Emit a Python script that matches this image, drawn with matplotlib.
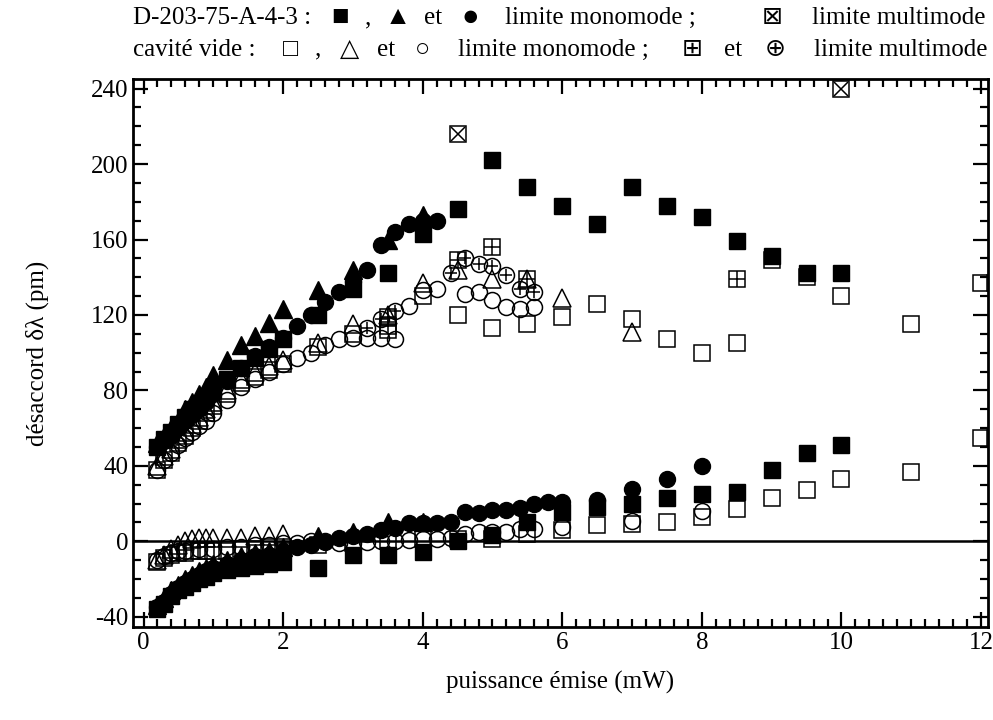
import matplotlib
matplotlib.use("Agg")
import matplotlib.pyplot as plt
from matplotlib.ticker import MultipleLocator

plt.rcParams['font.family'] = ['Liberation Serif', 'DejaVu Sans']
plt.rcParams['axes.unicode_minus'] = False

# ---- D-203-75-A-4-3, branche haute ----
x_sq_hi = [0.2, 0.3, 0.4, 0.5, 0.6, 0.7, 0.8, 0.9, 1.0, 1.2, 1.4, 1.6, 1.8, 2.0, 2.5, 3.0, 3.5, 4.0,
           4.5, 5.0, 5.5, 6.0, 6.5, 7.0, 7.5, 8.0, 8.5, 9.0, 9.5, 10.0]
y_sq_hi = [50, 54, 58, 62, 66, 70, 73, 77, 80, 86, 92, 97, 102, 107, 120, 134, 142, 163,
           176, 202, 188, 178, 168, 188, 178, 172, 159, 151, 142, 142]
x_tri_hi = [0.2, 0.3, 0.4, 0.5, 0.6, 0.7, 0.8, 0.9, 1.0, 1.2, 1.4, 1.6, 1.8, 2.0, 2.5, 3.0, 3.5, 4.0]
y_tri_hi = [52, 56, 60, 64, 70, 74, 78, 82, 88, 96, 104, 109, 116, 123, 133, 144, 160, 173]
x_ci_hi = [0.2, 0.3, 0.4, 0.5, 0.6, 0.7, 0.8, 0.9, 1.0, 1.2, 1.4, 1.6, 1.8, 2.0, 2.2, 2.4, 2.6, 2.8,
           3.0, 3.2, 3.4, 3.6, 3.8, 4.0, 4.2]
y_ci_hi = [50, 53, 56, 60, 64, 67, 70, 74, 78, 85, 92, 98, 103, 108, 114, 120, 127, 132,
           138, 144, 157, 164, 168, 170, 170]
x_multi = [4.5, 10.0]
y_multi = [216, 240]

# ---- D-203-75-A-4-3, branche basse ----
x_sq_lo = [0.2, 0.3, 0.4, 0.5, 0.6, 0.7, 0.8, 0.9, 1.0, 1.2, 1.4, 1.6, 1.8, 2.0, 2.5, 3.0, 3.5, 4.0,
           4.5, 5.0, 5.5, 6.0, 6.5, 7.0, 7.5, 8.0, 8.5, 9.0, 9.5, 10.0]
y_sq_lo = [-36, -33, -29, -26, -24, -22, -20, -19, -17, -15, -14, -13, -12, -11, -14, -7.5, -7.5, -5.5,
           0, 3.6, 10, 15.5, 18, 20, 23, 25, 26, 38, 47, 51]
x_tri_lo = [0.2, 0.3, 0.4, 0.5, 0.6, 0.7, 0.8, 0.9, 1.0, 1.2, 1.4, 1.6, 1.8, 2.0, 2.5, 3.0, 3.5, 4.0]
y_tri_lo = [-34, -30, -26, -23, -20, -18, -16, -14, -12, -10, -8, -6, -5, -3, 3, 5, 10, 10]
x_ci_lo = [0.2, 0.3, 0.4, 0.5, 0.6, 0.7, 0.8, 0.9, 1.0, 1.2, 1.4, 1.6, 1.8, 2.0, 2.2, 2.4, 2.6, 2.8,
           3.0, 3.2, 3.4, 3.6, 3.8, 4.0, 4.2, 4.4, 4.6, 4.8, 5.0, 5.2, 5.4, 5.6, 5.8, 6.0, 6.5, 7.0,
           7.5, 8.0]
y_ci_lo = [-35, -32, -28, -25, -22, -20, -18, -16, -14, -12, -10, -8, -7, -5, -3, -2, -0.5, 2,
           3, 4, 6, 7, 9.5, 9.5, 9.5, 10, 15.5, 15, 16.6, 16.6, 17.5, 20, 21, 21, 22, 27.5,
           33, 40]

# ---- cavite vide, branche haute ----
x_osq_hi = [0.2, 0.3, 0.4, 0.5, 0.6, 0.7, 0.8, 0.9, 1.0, 1.2, 1.4, 1.6, 1.8, 2.0, 2.5, 3.0, 3.5, 4.0,
            4.5, 5.0, 5.5, 6.0, 6.5, 7.0, 7.5, 8.0, 8.5, 9.0, 9.5, 10.0, 11.0, 12.0, 12.2]
y_osq_hi = [38, 43, 47, 52, 56, 60, 64, 68, 72, 78, 84, 87, 91, 94, 103, 110, 112, 130,
            120, 113, 115, 119, 126, 118, 107.5, 100, 105, 149, 140, 130, 115, 137, 137]
x_otri_hi = [0.2, 0.3, 0.4, 0.5, 0.6, 0.7, 0.8, 0.9, 1.0, 1.2, 1.4, 1.6, 1.8, 2.0, 2.5, 3.0, 3.5,
             4.0, 4.5, 5.0, 5.5, 6.0, 7.0]
y_otri_hi = [40, 45, 49, 54, 58, 62, 66, 70, 74, 80, 86, 90, 93, 96, 105, 115, 120,
             137, 144, 139, 139, 129, 111]
x_oci_hi = [0.2, 0.3, 0.4, 0.5, 0.6, 0.7, 0.8, 0.9, 1.0, 1.2, 1.4, 1.6, 1.8, 2.0, 2.2, 2.4, 2.6, 2.8,
            3.0, 3.2, 3.4, 3.6, 3.8, 4.0, 4.2, 4.6, 4.8, 5.0, 5.2, 5.4, 5.6]
y_oci_hi = [38, 43, 47, 51, 55, 58, 61, 64, 68, 75, 82, 86, 90, 94, 97, 100, 104, 107,
            108, 108, 108, 107, 125, 133, 134, 131, 132, 128, 124, 123, 124]
x_plus_sq = [3.5, 3.5, 4.5, 5.0, 5.5, 8.5]
y_plus_sq = [114, 119, 149, 156, 139, 139]
x_plus_ci = [3.2, 3.4, 3.6, 4.4, 4.6, 4.8, 5.0, 5.2, 5.4, 5.6]
y_plus_ci = [113, 118, 122, 142, 150, 147, 146, 141, 134, 132]

# ---- cavite vide, branche basse ----
x_osq_lo = [0.2, 0.3, 0.4, 0.5, 0.6, 0.7, 0.8, 0.9, 1.0, 1.2, 1.4, 1.6, 1.8, 2.0, 2.5, 3.0, 3.5, 4.0,
            4.5, 5.0, 5.5, 6.0, 6.5, 7.0, 7.5, 8.0, 8.5, 9.0, 9.5, 10.0, 11.0, 12.0, 12.2]
y_osq_lo = [-11, -9, -7, -6, -6, -5, -5, -5, -5, -5, -4, -4, -3, -3, -2, -1, 0, 1,
            1, 1, 4, 6, 8.5, 9, 10, 13, 17, 23, 27, 33, 37, 55, 55]
x_otri_lo = [0.2, 0.3, 0.4, 0.5, 0.6, 0.7, 0.8, 0.9, 1.0, 1.2, 1.4, 1.6, 1.8, 2.0]
y_otri_lo = [-10, -7, -4, -2, 0, 1, 2, 2, 2, 2, 2, 3, 3, 4]
x_oci_lo = [0.2, 0.3, 0.4, 0.5, 0.6, 0.8, 1.0, 1.2, 1.4, 1.6, 1.8, 2.0, 2.2, 2.4, 2.6, 2.8, 3.0,
            3.2, 3.4, 3.6, 3.8, 4.0, 4.2, 4.4, 4.6, 4.8, 5.0, 5.2, 5.4, 5.6, 6.0, 7.0, 8.0]
y_oci_lo = [-10, -8, -6, -5, -5, -4, -4, -3, -3, -2, -2, -1, -1, 0, 0, -1, -1,
            -0.5, 0, 0, 0.5, 1, 1, 2, 4, 5, 5, 5, 6.5, 6.5, 7.5, 11, 16]

# legende en haut : (texte, position x en pixels, alignement, taille)
legende1 = [("D-203-75-A-4-3 :", 133, 'left', 18), ("\u25a0", 340, 'center', 21), (",", 368, 'center', 18),
            ("\u25b2", 398, 'center', 19), ("et", 433, 'center', 18), ("\u25cf", 470, 'center', 21),
            ("limite monomode ;", 505, 'left', 18), ("\u22a0", 772, 'center', 18),
            ("limite multimode", 985, 'right', 18)]
legende2 = [("cavit\u00e9 vide :", 133, 'left', 18), ("\u25a1", 290, 'center', 18), (",", 318, 'center', 18),
            ("\u25b3", 350, 'center', 18), ("et", 386, 'center', 18), ("\u25cb", 422, 'center', 18),
            ("limite monomode ;", 458, 'left', 18), ("\u229e", 692, 'center', 18), ("et", 733, 'center', 18),
            ("\u2295", 775, 'center', 18), ("limite multimode", 988, 'right', 18)]

fig = plt.figure(figsize=(9.93, 7.2), dpi=100)
ax = fig.add_axes([0.134, 0.129, 0.861, 0.761])

ms = 11.5
filled = dict(linestyle='none', color='black', markeredgecolor='black')
empty = dict(linestyle='none', markerfacecolor='none', markeredgecolor='black', markeredgewidth=1.1)

# remplis
ax.plot(x_sq_hi + x_sq_lo, y_sq_hi + y_sq_lo, 's', ms=ms, **filled)
ax.plot(x_tri_hi + x_tri_lo, y_tri_hi + y_tri_lo, '^', ms=ms + 1, **filled)
ax.plot(x_ci_hi + x_ci_lo, y_ci_hi + y_ci_lo, 'o', ms=ms, **filled)
# limite multimode D-203 : carre barre
ax.plot(x_multi, y_multi, 's', ms=ms, markerfacecolor='white', markeredgecolor='black',
        markeredgewidth=1.1, linestyle='none')
ax.plot(x_multi, y_multi, 'x', ms=ms - 1, markeredgecolor='black', markeredgewidth=1.1, linestyle='none')

# vides
ax.plot(x_osq_hi + x_osq_lo, y_osq_hi + y_osq_lo, 's', ms=ms, **empty)
ax.plot(x_otri_hi + x_otri_lo, y_otri_hi + y_otri_lo, '^', ms=ms + 1, **empty)
ax.plot(x_oci_hi + x_oci_lo, y_oci_hi + y_oci_lo, 'o', ms=ms, **empty)
ax.plot(x_plus_sq, y_plus_sq, 's', ms=ms, **empty)
ax.plot(x_plus_sq, y_plus_sq, '+', ms=ms, **empty)
ax.plot(x_plus_ci, y_plus_ci, 'o', ms=ms, **empty)
ax.plot(x_plus_ci, y_plus_ci, '+', ms=ms - 3, **empty)

ax.axhline(0, color='black', lw=1.8, zorder=1)

ax.set_xlim(-0.15, 12.1)
ax.set_ylim(-45.5, 245)
ax.xaxis.set_major_locator(MultipleLocator(2))
ax.xaxis.set_minor_locator(MultipleLocator(0.2))
ax.yaxis.set_major_locator(MultipleLocator(40))
ax.yaxis.set_minor_locator(MultipleLocator(10))
ax.tick_params(which='both', direction='in', top=True, right=True, width=1.6, labelsize=18)
ax.tick_params(which='major', length=11)
ax.tick_params(which='minor', length=6)
for s in ax.spines.values():
    s.set_linewidth(2)

ax.set_xlabel("puissance \u00e9mise (mW)", fontsize=18, labelpad=12)
ax.set_ylabel("d\u00e9saccord \u03b4\u03bb (pm)", fontsize=18, labelpad=30)

W = 993.0
for txt, px, al, fs in legende1:
    fig.text(px / W, 0.975, txt, fontsize=fs, ha=al, va='center')
for txt, px, al, fs in legende2:
    fig.text(px / W, 0.931, txt, fontsize=fs, ha=al, va='center')

fig.savefig("out.png", dpi=100)
